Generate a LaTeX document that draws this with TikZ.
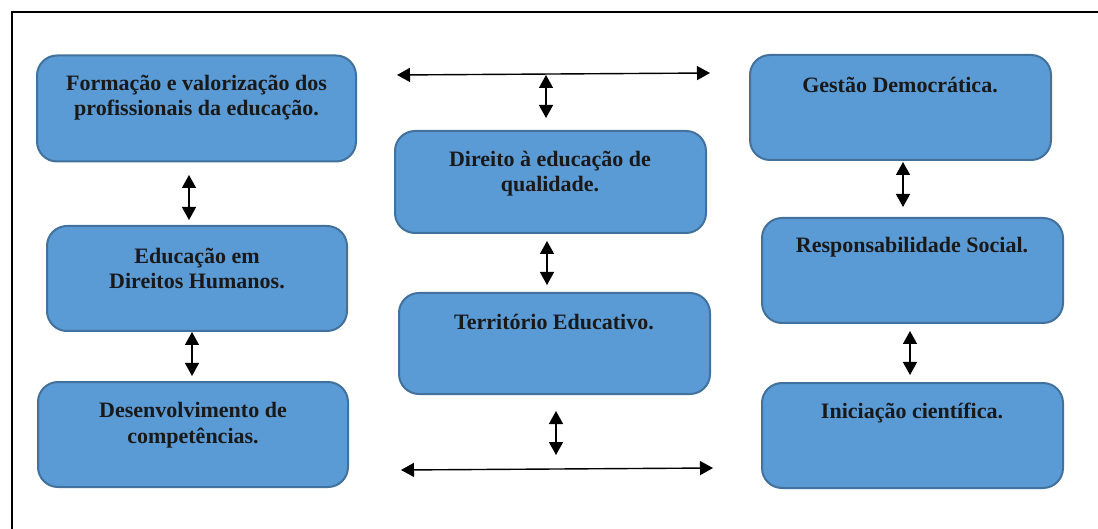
\documentclass[tikz,border=0pt]{standalone}
\usepackage{fontspec}
\setmainfont{Liberation Serif}
\usetikzlibrary{arrows.meta}
\definecolor{boxfill}{HTML}{5B9BD5}
\definecolor{boxedge}{HTML}{41719C}
\tikzset{
  card/.style={draw=boxedge, line width=2pt, fill=boxfill, rounded corners=20pt, inner sep=0pt},
  lbl/.style={align=center, font=\bfseries\fontsize{22}{25.5}\selectfont, text=black!90, inner sep=0pt},
  dbl/.style={line width=1.4pt, {Triangle[width=14pt,length=13pt]}-{Triangle[width=14pt,length=13pt]}},
  frame/.style={line width=1.6pt, black}
}
\begin{document}
\begin{tikzpicture}[x=1pt,y=-1pt]
\useasboundingbox (0,0) rectangle (1098,529);
% frame
\coordinate (fb) at (12,529);
\coordinate (fc) at (12,12);
\coordinate (fr) at (1098,12);
\draw[frame] (fb) -- (fc) -- (fr);
% boxes
\node[card, minimum width=319pt, minimum height=106pt] (b1) at (196.5,108.5) {};
\node[card, minimum width=300pt, minimum height=105pt] (b2) at (197,278.5) {};
\node[card, minimum width=310pt, minimum height=105pt] (b3) at (193,434.5) {};
\node[card, minimum width=311pt, minimum height=102pt] (m1) at (550.5,182) {};
\node[card, minimum width=311pt, minimum height=101pt] (m2) at (554.5,343.5) {};
\node[card, minimum width=301pt, minimum height=105pt] (r1) at (900.5,107.5) {};
\node[card, minimum width=301pt, minimum height=105pt] (r2) at (912.5,270.5) {};
\node[card, minimum width=301pt, minimum height=105pt] (r3) at (912.5,435.5) {};
% labels
\node[lbl] (t1) at (196.5,97.5) {Formação e valorização dos\\profissionais da educação.};
\node[lbl] (t2) at (197,268.5) {Educação em\\Direitos Humanos.};
\node[lbl] (t3) at (193,425) {Desenvolvimento de\\competências.};
\node[lbl] (tm1) at (550,173.5) {Direito à educação de\\qualidade.};
\node[lbl] (tm2) at (554,322) {Território Educativo.};
\node[lbl] (tr1) at (900,85) {Gestão Democrática.};
\node[lbl] (tr2) at (912,247) {Responsabilidade Social.};
\node[lbl] (tr3) at (912,413) {Iniciação científica.};
% arrow end points
\coordinate (a1s) at (189,175); \coordinate (a1e) at (189,220);
\coordinate (a2s) at (192,332); \coordinate (a2e) at (192,376);
\coordinate (h1s) at (397,75);  \coordinate (h1e) at (710,73);
\coordinate (v1s) at (546,75);  \coordinate (v1e) at (546,118);
\coordinate (v2s) at (547,241); \coordinate (v2e) at (547,285);
\coordinate (v3s) at (556,411); \coordinate (v3e) at (556,455);
\coordinate (h2s) at (401,470); \coordinate (h2e) at (713,468);
\coordinate (r1s) at (903,162); \coordinate (r1e) at (903,207);
\coordinate (r2s) at (910,331); \coordinate (r2e) at (910,375);
% arrows
\draw[dbl] (a1s) -- (a1e);
\draw[dbl] (a2s) -- (a2e);
\draw[dbl] (h1s) -- (h1e);
\draw[dbl] (v1s) -- (v1e);
\draw[dbl] (v2s) -- (v2e);
\draw[dbl] (v3s) -- (v3e);
\draw[dbl] (h2s) -- (h2e);
\draw[dbl] (r1s) -- (r1e);
\draw[dbl] (r2s) -- (r2e);
\end{tikzpicture}
\end{document}
